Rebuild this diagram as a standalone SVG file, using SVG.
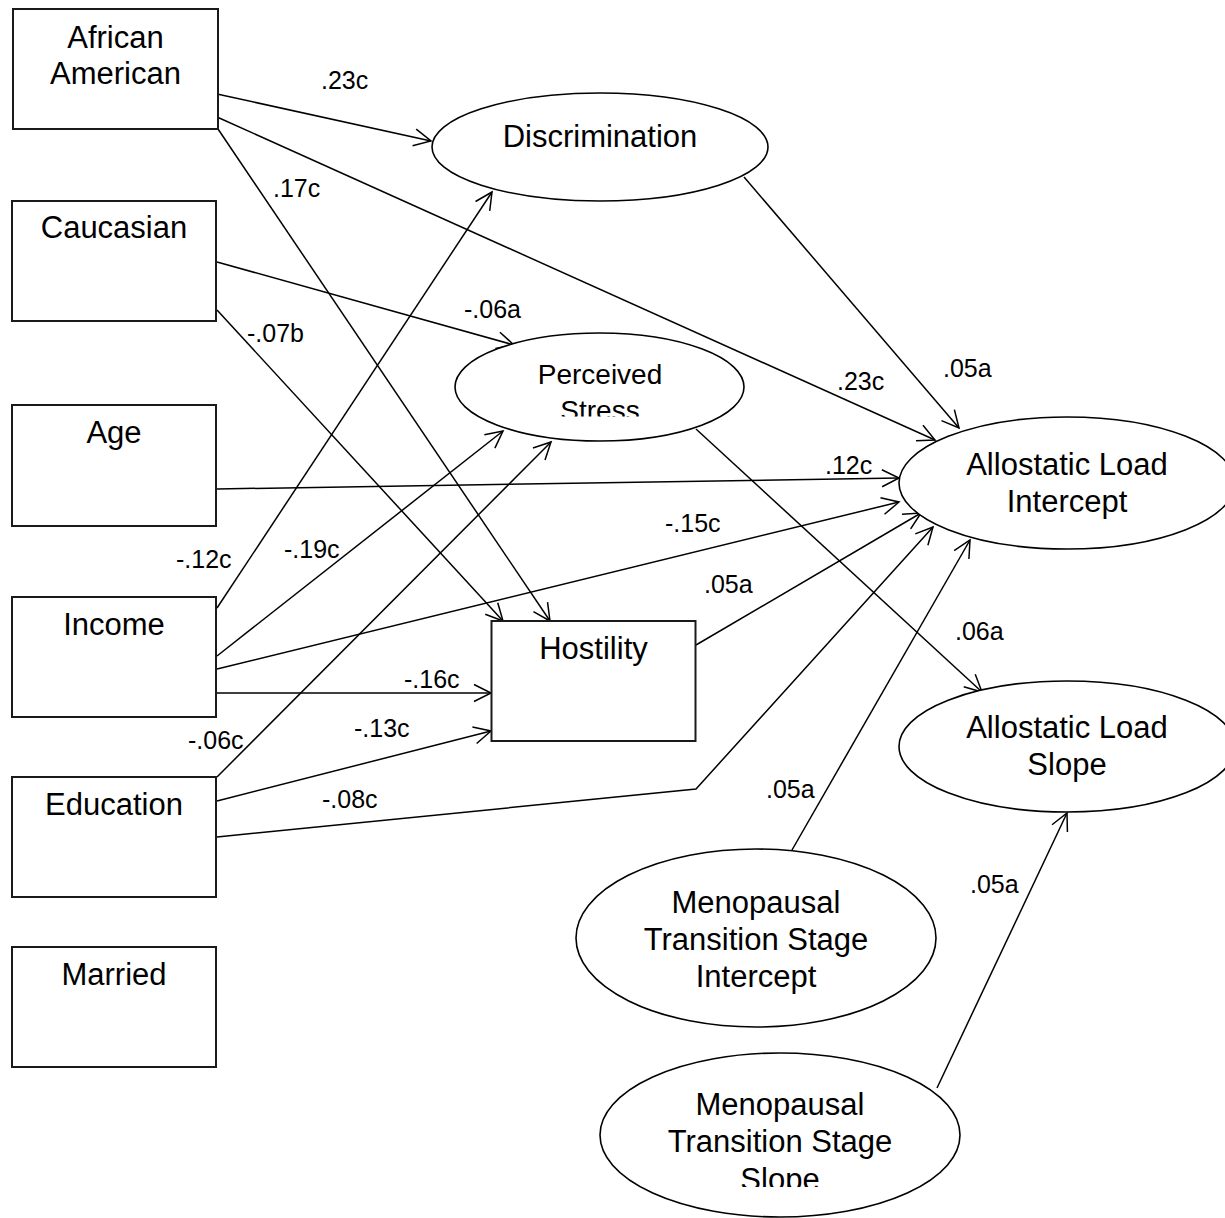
<svg xmlns="http://www.w3.org/2000/svg" width="1225" height="1218" viewBox="0 0 1225 1218">
<style>
.box{fill:#fff;stroke:#1a1a1a;stroke-width:2}
.ell{fill:#fff;stroke:#000;stroke-width:1.6}
.t{font-family:"Liberation Sans",Arial,sans-serif;font-size:31px;fill:#000;text-anchor:middle}
.ps{font-size:28px}
.lbl{font-family:"Liberation Sans",Arial,sans-serif;font-size:25px;fill:#000}
.e{fill:none;stroke:#000;stroke-width:1.5;marker-end:url(#arr)}
</style>
<defs>
<marker id="arr" viewBox="-20 -12 24 24" refX="0" refY="0" markerWidth="24" markerHeight="24" markerUnits="userSpaceOnUse" orient="auto" overflow="visible">
<path d="M-17,-8.5 L0,0 L-17,8.5" fill="none" stroke="#000" stroke-width="1.5"/>
</marker>
<clipPath id="clipPS"><rect x="440" y="330" width="320" height="86.5"/></clipPath>
<clipPath id="clipMS"><rect x="590" y="1040" width="380" height="147"/></clipPath>
</defs>
<rect width="1225" height="1218" fill="#fff"/>

<g id="connectors">
<path class="e" d="M217,94 L431,141"/>
<path class="e" d="M217,117 L935,440"/>
<path class="e" d="M218,129 L550,621"/>
<path class="e" d="M217,262 L514,345"/>
<path class="e" d="M217,310 L503,621"/>
<path class="e" d="M744,177 L959,428"/>
<path class="e" d="M217,489 L899,478"/>
<path class="e" d="M217,608 L492,192"/>
<path class="e" d="M217,656 L503,431"/>
<path class="e" d="M217,669 L899,502"/>
<path class="e" d="M217,693 L491,693"/>
<path class="e" d="M217,777 L551,442"/>
<path class="e" d="M217,801 L491,731"/>
<path class="e" d="M217,837 L696,789 L933,527"/>
<path class="e" d="M696,645 L921,513"/>
<path class="e" d="M792,850 L970,540"/>
<path class="e" d="M696,429 L982,692"/>
<path class="e" d="M937,1088 L1067,813"/>
</g>

<g id="edge-labels">
<text class="lbl" x="321" y="89">.23c</text>
<text class="lbl" x="273" y="197">.17c</text>
<text class="lbl" x="247" y="342">-.07b</text>
<text class="lbl" x="464" y="318">-.06a</text>
<text class="lbl" x="837" y="390">.23c</text>
<text class="lbl" x="943" y="377">.05a</text>
<text class="lbl" x="825" y="474">.12c</text>
<text class="lbl" x="665" y="532">-.15c</text>
<text class="lbl" x="176" y="568">-.12c</text>
<text class="lbl" x="284" y="558">-.19c</text>
<text class="lbl" x="704" y="593">.05a</text>
<text class="lbl" x="955" y="640">.06a</text>
<text class="lbl" x="404" y="688">-.16c</text>
<text class="lbl" x="354" y="737">-.13c</text>
<text class="lbl" x="188" y="749">-.06c</text>
<text class="lbl" x="322" y="808">-.08c</text>
<text class="lbl" x="766" y="798">.05a</text>
<text class="lbl" x="970" y="893">.05a</text>
</g>

<g id="african-american">
<rect class="box" x="13" y="9" width="205" height="120"/>
<text class="t" x="115.5" y="48">African</text>
<text class="t" x="115.5" y="84">American</text>
</g>
<g id="caucasian">
<rect class="box" x="12" y="201" width="204" height="120"/>
<text class="t" x="114" y="238">Caucasian</text>
</g>
<g id="age">
<rect class="box" x="12" y="405" width="204" height="121"/>
<text class="t" x="114" y="443">Age</text>
</g>
<g id="income">
<rect class="box" x="12" y="597" width="204" height="120"/>
<text class="t" x="114" y="635">Income</text>
</g>
<g id="education">
<rect class="box" x="12" y="777" width="204" height="120"/>
<text class="t" x="114" y="815">Education</text>
</g>
<g id="married">
<rect class="box" x="12" y="947" width="204" height="120"/>
<text class="t" x="114" y="985">Married</text>
</g>
<g id="hostility">
<rect class="box" x="491.5" y="621" width="204" height="120"/>
<text class="t" x="593.5" y="659">Hostility</text>
</g>
<g id="discrimination">
<ellipse class="ell" cx="600" cy="147" rx="168" ry="54"/>
<text class="t" x="600" y="147">Discrimination</text>
</g>
<g id="perceived-stress">
<ellipse class="ell" cx="599.5" cy="387" rx="144.5" ry="54"/>
<g clip-path="url(#clipPS)">
<text class="t ps" x="600" y="384">Perceived</text>
<text class="t ps" x="600" y="420">Stress</text>
</g>
</g>
<g id="allostatic-load-intercept">
<ellipse class="ell" cx="1067" cy="483" rx="168" ry="66"/>
<text class="t" x="1067" y="475">Allostatic Load</text>
<text class="t" x="1067" y="512">Intercept</text>
</g>
<g id="allostatic-load-slope">
<ellipse class="ell" cx="1067" cy="746.5" rx="168" ry="65.5"/>
<text class="t" x="1067" y="738">Allostatic Load</text>
<text class="t" x="1067" y="775">Slope</text>
</g>
<g id="mts-intercept">
<ellipse class="ell" cx="756" cy="938" rx="180" ry="89"/>
<text class="t" x="756" y="913">Menopausal</text>
<text class="t" x="756" y="950">Transition Stage</text>
<text class="t" x="756" y="987">Intercept</text>
</g>
<g id="mts-slope">
<ellipse class="ell" cx="780" cy="1135" rx="180" ry="82"/>
<g clip-path="url(#clipMS)">
<text class="t" x="780" y="1115">Menopausal</text>
<text class="t" x="780" y="1152">Transition Stage</text>
<text class="t" x="780" y="1190">Slope</text>
</g>
</g>
</svg>
